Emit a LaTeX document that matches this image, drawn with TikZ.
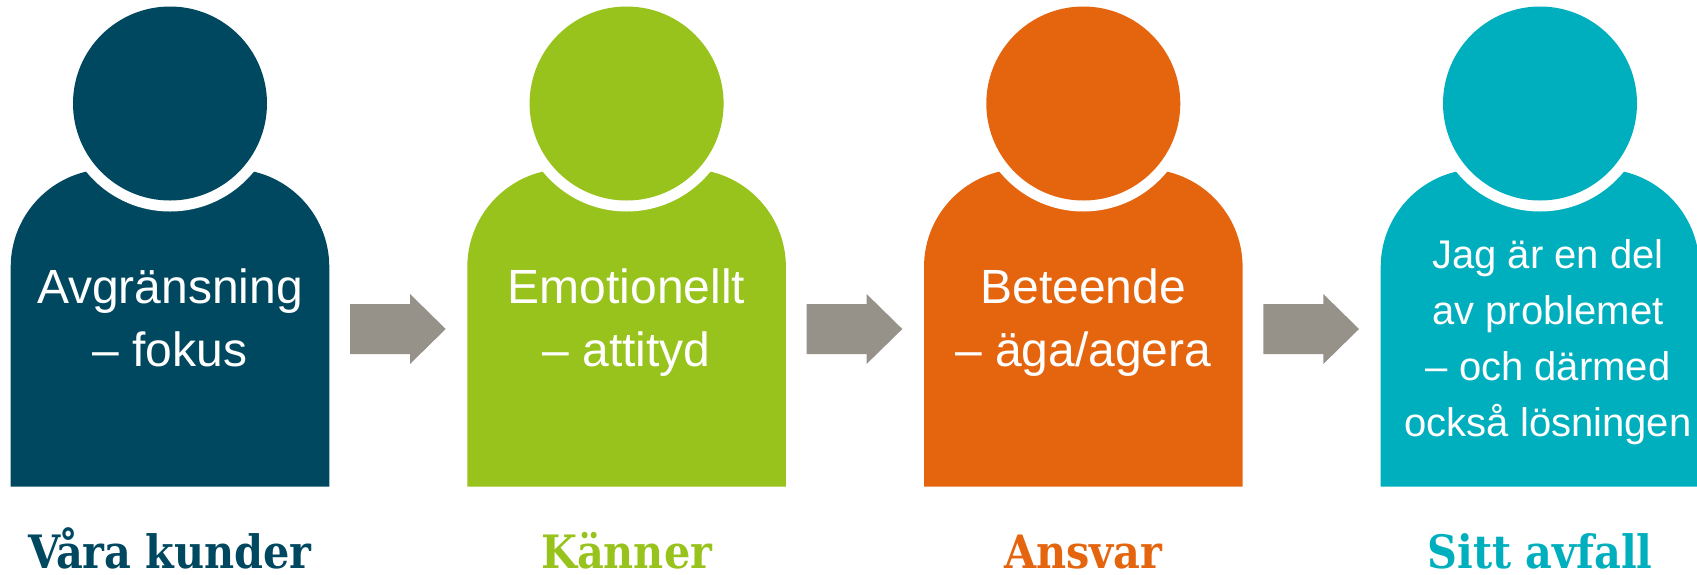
\documentclass[tikz,border=0pt]{standalone}
\usepackage{fontspec}
\setmainfont{Liberation Sans}
\newfontfamily\slabfont{DejaVu Serif Condensed}
\definecolor{navy}{HTML}{004860}
\definecolor{lime}{HTML}{97C31C}
\definecolor{rust}{HTML}{E5650F}
\definecolor{teal2}{HTML}{00AFBE}
\definecolor{stone}{HTML}{96928A}
\newcommand{\firstln}{\rule{0pt}{40pt}}
\newcommand{\lastln}{\rule[-14pt]{0pt}{14pt}}
\tikzset{
  x=1pt,y=-1pt,
  inner/.style={text=white,align=center,inner sep=0pt,font=\fontsize{48}{63}\selectfont},
  innersmall/.style={text=white,align=center,inner sep=0pt,font=\fontsize{40}{56}\selectfont},
  title/.style={inner sep=0pt,anchor=base,font=\slabfont\bfseries\fontsize{46}{50}\selectfont},
  blockarrow/.style={fill=stone,draw=none}
}
\newcommand{\personshape}[2]{%
  \fill[#2] (#1-159.3,486.5) -- (#1-159.3,267) arc[start angle=180,end angle=90,x radius=98,y radius=-98]
     -- (#1+61.3,169) arc[start angle=90,end angle=0,x radius=98,y radius=-98] -- (#1+159.3,486.5) -- cycle;
  \fill[white] (#1,103.5) circle[radius=108];
  \fill[#2] (#1,103.5) circle[radius=97];
}
\newcommand{\blockarrowat}[1]{%
  \fill[blockarrow] (#1,304) -- (#1+60,304) -- (#1+60,294) -- (#1+95.7,329) -- (#1+60,364) -- (#1+60,354) -- (#1,354) -- cycle;
}
\begin{document}
\begin{tikzpicture}
\useasboundingbox (0,0) rectangle (1697,574);
\clip (0,0) rectangle (1697,574);
\personshape{170}{navy}
\personshape{626.6}{lime}
\personshape{1083.3}{rust}
\personshape{1540}{teal2}
\blockarrowat{350}
\blockarrowat{806.6}
\blockarrowat{1263.3}
\node[inner] (t1) at (170,322) {\firstln Avgränsning\\– fokus\lastln};
\node[inner] (t2) at (626.6,322) {\firstln Emotionellt\\– attityd\lastln};
\node[inner] (t3) at (1083.3,322) {\firstln Beteende\\– äga/agera\lastln};
\node[innersmall] (t4) at (1548,339.5) {\firstln Jag är en del\\av problemet\\– och därmed\\också lösningen\lastln};
\node[title,text=navy] (h1) at (170,568) {Våra kunder};
\node[title,text=lime] (h2) at (626.6,568) {Känner};
\node[title,text=rust] (h3) at (1083.3,568) {Ansvar};
\node[title,text=teal2] (h4) at (1540,568) {Sitt avfall};
\end{tikzpicture}
\end{document}
